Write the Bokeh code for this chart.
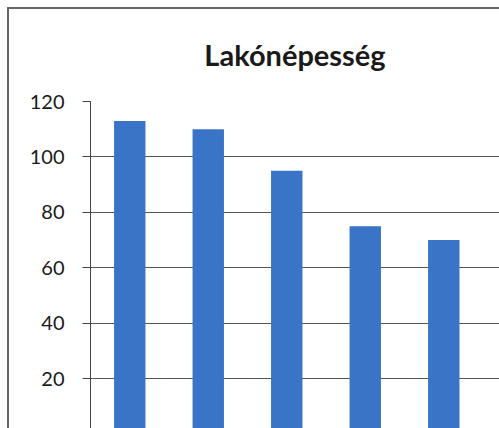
from bokeh.plotting import figure
from bokeh.models import Range1d, FixedTicker, ColumnDataSource
from bokeh.embed import file_html
from bokeh.resources import INLINE

# Data
categories = ["1", "2", "3", "4", "5"]
values = [113, 110, 95, 75, 70]
y_ticks = [0, 20, 40, 60, 80, 100, 120]
title_text = "Lakónépesség"

xpos = [i + 0.5 for i in range(len(categories))]
src = ColumnDataSource(dict(x=xpos, top=values, cat=categories))

p = figure(width=499, height=428, output_backend="svg", toolbar_location=None,
           x_range=Range1d(0, 5.21), y_range=Range1d(2.0, 120),
           min_border_left=90, min_border_top=101, min_border_right=0, min_border_bottom=0)

p.title.text = title_text
p.title.align = "center"
p.title.text_font = "Lato"
p.title.text_font_style = "bold"
p.title.text_font_size = "29px"
p.title.text_color = "#1a1a1a"
p.title.standoff = 60
p.title.offset = 5

p.vbar(x="x", top="top", bottom=0, width=0.4, source=src,
       fill_color="#3a74c6", line_color=None)

p.xaxis.visible = False
p.xgrid.grid_line_color = None
p.ygrid.grid_line_color = "#555555"
p.ygrid.grid_line_width = 1
p.yaxis.ticker = FixedTicker(ticks=y_ticks)
p.yaxis.axis_line_color = "#444444"
p.yaxis.major_tick_line_color = "#444444"
p.yaxis.major_tick_out = 8
p.yaxis.major_tick_in = 0
p.yaxis.minor_tick_line_color = None
p.yaxis.major_label_text_font = "Lato"
p.yaxis.major_label_text_font_size = "20px"
p.yaxis.major_label_text_color = "#1a1a1a"
p.yaxis.major_label_standoff = 18
p.outline_line_color = None
p.background_fill_color = "white"
p.border_fill_color = None
p.styles = {
    "background": "linear-gradient(#666666,#666666) 8px 7px / 100% 2px no-repeat, "
                  "linear-gradient(#666666,#666666) 7px 7px / 2px 100% no-repeat, white"
}

open("out.html", "w").write(file_html(p, INLINE))
